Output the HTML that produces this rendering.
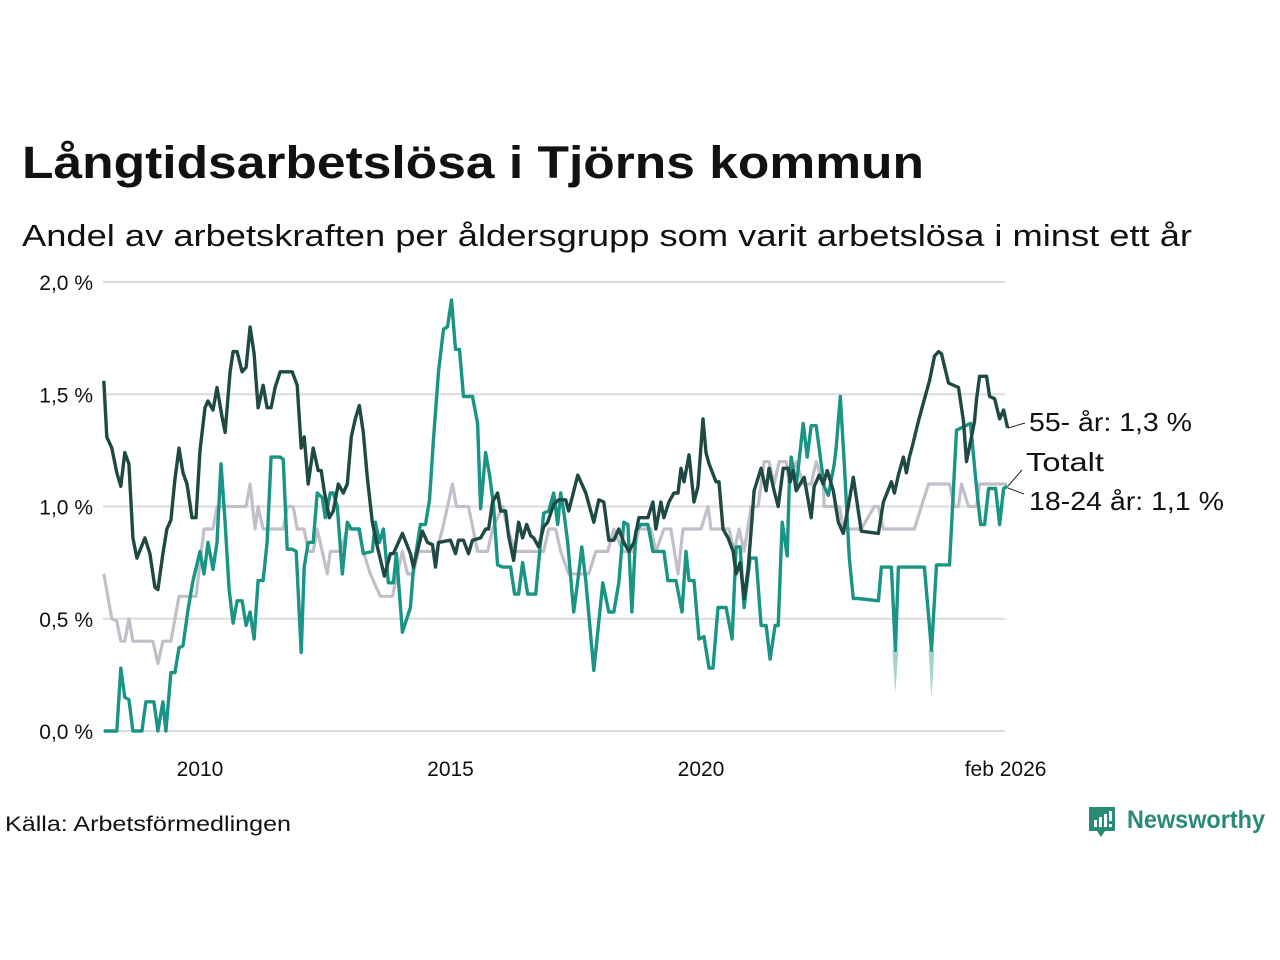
<!DOCTYPE html>
<html><head><meta charset="utf-8"><style>
html,body{margin:0;padding:0;background:#fff;}
svg{display:block;font-family:"Liberation Sans",sans-serif;}
</style></head><body>
<svg id="chart" width="1280" height="960" viewBox="0 0 1280 960">
<text x="22" y="178" font-size="45" font-weight="bold" fill="#111" textLength="902" lengthAdjust="spacingAndGlyphs">Långtidsarbetslösa i Tjörns kommun</text>
<text x="22" y="246" font-size="31" fill="#111" textLength="1170" lengthAdjust="spacingAndGlyphs">Andel av arbetskraften per åldersgrupp som varit arbetslösa i minst ett år</text>
<g id="grid"></g>
<g id="yticks"></g>
<g id="xticks"></g>
<g id="series"></g>
<g>
<line x1="1008" y1="428" x2="1025" y2="423" stroke="#222" stroke-width="1"/>
<line x1="1008" y1="486" x2="1022" y2="470" stroke="#222" stroke-width="1"/>
<line x1="1008" y1="488" x2="1024" y2="494" stroke="#222" stroke-width="1"/>
<text x="1029" y="431" font-size="26" fill="#111" textLength="163" lengthAdjust="spacingAndGlyphs">55- år: 1,3 %</text>
<text x="1026" y="471" font-size="26" fill="#111" textLength="78" lengthAdjust="spacingAndGlyphs">Totalt</text>
<text x="1029" y="510" font-size="26" fill="#111" textLength="195" lengthAdjust="spacingAndGlyphs">18-24 år: 1,1 %</text>
</g>
<text x="5" y="831" font-size="21" fill="#111" textLength="286" lengthAdjust="spacingAndGlyphs">Källa: Arbetsförmedlingen</text>
<g>
<path d="M1089 807 h26 v24 h-10 l-4 6 l-4 -6 h-8 z" fill="#2a8a78"/>
<rect x="1094" y="820" width="3" height="7" fill="#fff"/><rect x="1099" y="817" width="3" height="10" fill="#fff"/><rect x="1104" y="814" width="3" height="13" fill="#fff"/><rect x="1109" y="811" width="3" height="10" fill="#fff"/><rect x="1109" y="824" width="3" height="3" fill="#fff"/>
<text x="1127" y="828" font-size="25" font-weight="bold" fill="#2a8a78" textLength="138" lengthAdjust="spacingAndGlyphs">Newsworthy</text>
</g>
</svg>
<script>
const yTicks=[0,0.5,1.0,1.5,2.0];
const yTickLabels=["0,0 %","0,5 %","1,0 %","1,5 %","2,0 %"];
const xTicks=[2010,2015,2020,2026.08];
const xTickLabels=["2010","2015","2020","feb 2026"];

const datesOld=[2008.08,2008.14,2008.24,2008.34,2008.42,2008.5,2008.58,2008.66,2008.74,2008.9,2009.0,2009.1,2009.16,2009.26,2009.34,2009.42,2009.5,2009.58,2009.66,2009.74,2009.84,2009.92,2010.0,2010.1,2010.16,2010.26,2010.34,2010.44,2010.5,2010.6,2010.66,2010.74,2010.84,2010.92,2011.0,2011.08,2011.16,2011.26,2011.34,2011.42,2011.5,2011.6,2011.84,2011.94,2012.02,2012.08,2012.16,2012.26,2012.36,2012.42,2012.48,2012.58,2012.66,2012.76,2012.86,2012.94,2013.02,2013.1,2013.18,2013.26,2013.34,2013.44,2013.54,2013.68,2013.8,2013.86,2014.04,2014.2,2014.26,2014.44,2014.54,2014.64,2014.7,2014.76,2015.0,2015.1,2015.16,2015.26,2015.36,2015.44,2015.6,2015.7,2015.76,2015.84,2015.94,2016.0,2016.1,2016.16,2016.26,2016.36,2016.44,2016.52,2016.6,2016.66,2016.76,2016.86,2016.94,2017.06,2017.16,2017.3,2017.36,2017.54,2017.7,2017.86,2017.96,2018.06,2018.16,2018.26,2018.36,2018.46,2018.56,2018.66,2018.76,2018.94,2019.04,2019.1,2019.2,2019.26,2019.36,2019.46,2019.54,2019.6,2019.66,2019.76,2019.86,2019.94,2020.04,2020.1,2020.16,2020.3,2020.36,2020.44,2020.54,2020.64,2020.7,2020.78,2020.86,2020.94,2021.02,2021.06,2021.2,2021.3,2021.36,2021.46,2021.54,2021.64,2021.74,2021.78,2021.84,2021.9,2021.98,2022.06,2022.2,2022.26,2022.36,2022.44,2022.52,2022.64,2022.74,2022.84,2022.94,2023.04,2023.1,2023.2,2023.54,2023.64,2023.8,2023.86,2023.94,2024.04,2024.1,2024.16,2024.22,2024.34,2024.4,2024.56,2024.66,2024.74,2024.8,2024.94,2025.14,2025.24,2025.3,2025.4,2025.46,2025.5,2025.56,2025.7,2025.76,2025.86,2025.96,2026.04,2026.12];
const valuesOld=[1.56,1.31,1.26,1.15,1.09,1.24,1.19,0.86,0.77,0.86,0.79,0.64,0.63,0.79,0.90,0.94,1.12,1.26,1.15,1.10,0.95,0.95,1.25,1.44,1.47,1.43,1.53,1.40,1.33,1.60,1.69,1.69,1.60,1.62,1.80,1.68,1.44,1.54,1.44,1.44,1.53,1.60,1.60,1.54,1.26,1.31,1.10,1.26,1.16,1.16,1.07,0.95,0.98,1.10,1.06,1.10,1.31,1.39,1.45,1.33,1.13,0.93,0.82,0.69,0.79,0.79,0.88,0.79,0.73,0.89,0.84,0.83,0.73,0.84,0.85,0.79,0.85,0.85,0.79,0.85,0.86,0.90,0.90,1.02,1.06,0.98,0.98,0.87,0.76,0.93,0.86,0.92,0.87,0.86,0.82,0.91,0.93,1.01,1.03,1.03,0.98,1.14,1.06,0.93,1.03,1.02,0.85,0.85,0.90,0.84,0.80,0.84,0.95,0.95,1.02,0.90,1.02,0.95,1.02,1.06,1.06,1.17,1.11,1.23,1.02,1.09,1.39,1.24,1.19,1.11,1.11,0.90,0.86,0.80,0.70,0.75,0.59,0.72,0.95,1.07,1.17,1.07,1.17,1.07,1.00,1.17,1.17,1.11,1.16,1.07,1.10,1.13,0.95,1.09,1.14,1.10,1.16,1.07,0.93,0.88,1.00,1.13,1.04,0.89,0.88,1.02,1.11,1.06,1.14,1.22,1.15,1.22,1.27,1.38,1.43,1.56,1.67,1.69,1.68,1.55,1.53,1.38,1.20,1.31,1.38,1.48,1.58,1.58,1.49,1.48,1.39,1.43,1.35];

const datesYoung=[2008.08,2008.34,2008.42,2008.5,2008.58,2008.66,2008.84,2008.92,2009.08,2009.16,2009.26,2009.32,2009.42,2009.5,2009.58,2009.66,2009.76,2009.86,2010.0,2010.08,2010.16,2010.26,2010.34,2010.42,2010.5,2010.58,2010.66,2010.74,2010.84,2010.92,2011.0,2011.08,2011.16,2011.26,2011.34,2011.42,2011.6,2011.66,2011.74,2011.84,2011.92,2012.02,2012.08,2012.16,2012.26,2012.34,2012.44,2012.5,2012.6,2012.66,2012.74,2012.84,2012.94,2013.02,2013.18,2013.26,2013.44,2013.5,2013.58,2013.66,2013.76,2013.86,2013.92,2014.04,2014.2,2014.26,2014.4,2014.5,2014.58,2014.66,2014.76,2014.86,2014.94,2015.02,2015.1,2015.18,2015.26,2015.44,2015.54,2015.6,2015.7,2015.78,2015.86,2015.94,2016.04,2016.2,2016.28,2016.36,2016.44,2016.54,2016.7,2016.78,2016.86,2016.96,2017.06,2017.14,2017.2,2017.26,2017.34,2017.46,2017.54,2017.62,2017.7,2017.86,2018.04,2018.16,2018.26,2018.36,2018.46,2018.54,2018.62,2018.7,2018.8,2018.94,2019.04,2019.26,2019.34,2019.5,2019.62,2019.7,2019.76,2019.86,2019.96,2020.06,2020.16,2020.24,2020.34,2020.5,2020.62,2020.7,2020.78,2020.86,2020.98,2021.1,2021.2,2021.3,2021.38,2021.48,2021.54,2021.62,2021.72,2021.76,2021.8,2021.9,2022.04,2022.12,2022.2,2022.3,2022.4,2022.46,2022.54,2022.66,2022.7,2022.78,2022.86,2022.96,2023.04,2023.14,2023.54,2023.6,2023.8,2023.88,2023.94,2024.46,2024.6,2024.7,2024.96,2025.1,2025.38,2025.5,2025.58,2025.66,2025.74,2025.88,2025.96,2026.04,2026.12];
const valuesYoung=[0,0,0.28,0.15,0.14,0,0,0.13,0.13,0,0.13,0,0.26,0.26,0.37,0.38,0.54,0.67,0.80,0.70,0.84,0.72,0.84,1.19,0.93,0.63,0.48,0.58,0.58,0.47,0.53,0.41,0.67,0.67,0.84,1.22,1.22,1.21,0.81,0.81,0.80,0.35,0.73,0.84,0.84,1.06,1.04,0.95,1.06,1.06,1.00,0.70,0.93,0.90,0.90,0.79,0.80,0.93,0.84,0.90,0.66,0.66,0.79,0.44,0.55,0.72,0.92,0.92,1.03,1.30,1.60,1.79,1.80,1.92,1.70,1.70,1.49,1.49,1.37,0.99,1.24,1.14,1.00,0.74,0.73,0.73,0.61,0.61,0.75,0.61,0.61,0.80,0.97,0.98,1.06,0.92,1.06,0.98,0.84,0.53,0.67,0.82,0.67,0.27,0.66,0.53,0.53,0.66,0.93,0.92,0.53,0.89,0.92,0.92,0.80,0.80,0.67,0.67,0.53,0.80,0.67,0.67,0.41,0.42,0.28,0.28,0.55,0.55,0.41,0.82,0.82,0.55,0.77,0.77,0.47,0.47,0.32,0.47,0.47,0.93,0.78,1.09,1.22,1.09,1.37,1.22,1.36,1.36,1.19,1.09,1.05,1.19,1.27,1.49,1.19,0.77,0.59,0.59,0.58,0.73,0.73,0.36,0.73,0.73,0.36,0.74,0.74,1.34,1.37,1.08,0.92,0.92,1.08,1.08,0.92,1.08,1.09];

const uncertDates=[2023.88,2024.6];
const uncertLow=[0.17,0.15];

const datesTotal=[2008.08,2008.24,2008.34,2008.42,2008.5,2008.58,2008.66,2009.06,2009.16,2009.26,2009.42,2009.58,2009.92,2010.08,2010.26,2010.34,2010.92,2011.0,2011.1,2011.16,2011.26,2011.66,2011.74,2011.86,2011.94,2012.08,2012.16,2012.26,2012.34,2012.44,2012.54,2012.6,2012.8,2012.94,2013.16,2013.26,2013.4,2013.6,2013.84,2013.94,2014.04,2014.14,2014.26,2014.36,2014.72,2014.84,2014.94,2015.04,2015.12,2015.36,2015.54,2015.74,2015.84,2016.04,2016.14,2016.3,2016.86,2016.96,2017.1,2017.2,2017.36,2017.76,2017.9,2018.14,2018.26,2018.44,2018.66,2018.76,2019.0,2019.1,2019.26,2019.4,2019.54,2019.64,2020.0,2020.14,2020.2,2020.56,2020.66,2020.76,2020.86,2021.0,2021.14,2021.26,2021.36,2021.46,2021.56,2021.7,2021.76,2021.9,2022.04,2022.2,2022.3,2022.44,2022.46,2022.76,2022.84,2023.2,2023.46,2023.54,2023.64,2024.26,2024.4,2024.54,2024.96,2025.06,2025.14,2025.2,2025.34,2025.5,2025.56,2026.1];
const valuesTotal=[0.70,0.50,0.49,0.40,0.40,0.50,0.40,0.40,0.30,0.40,0.40,0.60,0.60,0.90,0.90,1.0,1.0,1.10,0.90,1.0,0.90,0.90,1.0,1.0,0.90,0.90,0.80,0.80,0.90,0.80,0.70,0.80,0.80,0.90,0.90,0.80,0.70,0.60,0.60,0.70,0.80,0.70,0.70,0.80,0.80,0.90,1.0,1.10,1.0,1.0,0.80,0.80,0.90,1.0,0.90,0.80,0.80,0.90,0.90,0.80,0.70,0.70,0.80,0.80,0.90,0.80,0.80,0.90,0.90,0.80,0.90,0.90,0.70,0.90,0.90,1.0,0.90,0.90,0.80,0.90,0.80,1.0,1.0,1.20,1.20,1.10,1.20,1.20,1.10,1.20,1.10,1.10,1.20,1.10,1.0,1.0,0.90,0.90,1.0,1.0,0.90,0.90,1.0,1.10,1.10,1.0,1.0,1.10,1.0,1.0,1.10,1.10];

const NS='http://www.w3.org/2000/svg';
const X=t=>200+(t-2010)*50.1;
const Y=v=>731-v*224.5;
function mk(tag,attrs,parent){const e=document.createElementNS(NS,tag);for(const k in attrs)e.setAttribute(k,attrs[k]);parent.appendChild(e);return e;}
const grid=document.getElementById('grid'),yt=document.getElementById('yticks'),xt=document.getElementById('xticks'),ser=document.getElementById('series');
yTicks.forEach((v,i)=>{
  const l=mk('line',{x1:103,x2:1005,y1:Y(v),y2:Y(v),stroke:'#dcdcdf','stroke-width':2},grid);
  
  
  const t=mk('text',{x:93,y:Y(v)+8,'font-size':21,fill:'#111','text-anchor':'end'},yt);
  t.textContent=yTickLabels[i];
  
  
});
xTicks.forEach((v,i)=>{
  const t=mk('text',{x:X(v),y:776,'font-size':21,fill:'#111','text-anchor':'middle'},xt);
  t.textContent=xTickLabels[i];
  
  
});
function pts(d,v){return d.map((t,i)=>X(t).toFixed(1)+','+Y(v[i]).toFixed(1)).join(' ');}
uncertDates.forEach((t,i)=>{
  const j=datesYoung.indexOf(t);
  const v=valuesYoung[j];
  const p=mk('polygon',{points:`${X(t)-3},${Y(v)} ${X(t)+3},${Y(v)} ${X(t)},${Y(uncertLow[i])}`,fill:'#1a9485','fill-opacity':0.4},ser);
  
  
});
const lt=mk('polyline',{points:pts(datesTotal,valuesTotal),fill:'none',stroke:'#c2bfca','stroke-width':3.2,'stroke-linejoin':'round'},ser);


const ly=mk('polyline',{points:pts(datesYoung,valuesYoung),fill:'none',stroke:'#1a9485','stroke-width':3.4,'stroke-linejoin':'round'},ser);


const lo=mk('polyline',{points:pts(datesOld,valuesOld),fill:'none',stroke:'#1f4a44','stroke-width':3.4,'stroke-linejoin':'round'},ser);


</script>
</body></html>
